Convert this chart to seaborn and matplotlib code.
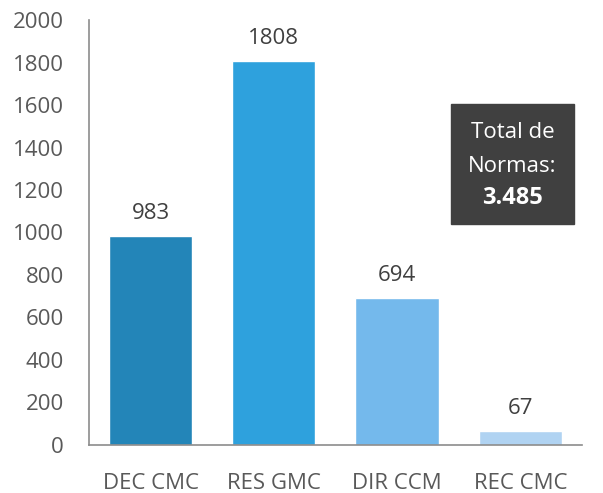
import matplotlib
matplotlib.use("Agg")
import matplotlib.pyplot as plt
from matplotlib.patches import Rectangle
import seaborn as sns
import pandas as pd

categories = ["DEC CMC", "RES GMC", "DIR CCM", "REC CMC"]
values = [983, 1808, 694, 67]
colors = ["#2385b8", "#2ea1dd", "#74b9ec", "#b0d3f2"]
total_label = "3.485"

sns.set_style("white")
plt.rcParams["font.family"] = ["Open Sans", "DejaVu Sans"]

df = pd.DataFrame({"cat": categories, "val": values})

fig = plt.figure(figsize=(6.03, 4.93), dpi=100)
ax = fig.add_axes([0.1476, 0.0974, 0.8174, 0.862])
sns.barplot(data=df, x="cat", y="val", hue="cat", palette=colors, width=0.675,
            legend=False, ax=ax, saturation=1)

ax.set_ylim(0, 2000)
ax.set_xlim(-0.5, 3.5)
ax.set_yticks(range(0, 2001, 200))
ax.set_xlabel("")
ax.set_ylabel("")
for s in ["top", "right"]:
    ax.spines[s].set_visible(False)
for s in ["left", "bottom"]:
    ax.spines[s].set_color("#8c8c8c")
    ax.spines[s].set_linewidth(1.2)
ax.tick_params(axis="both", length=0, labelsize=16, colors="#595959")
ax.tick_params(axis="x", pad=20)
ax.tick_params(axis="y", pad=18)

for i, v in enumerate(values):
    ax.text(i, v + 55, str(v), ha="center", va="bottom", fontsize=16, color="#404040")

fig.patches.append(Rectangle((451 / 603, 1 - 224 / 493), 123 / 603, 120 / 493,
                             transform=fig.transFigure, color="#404040", zorder=5))
cx = 512.5 / 603
fig.text(cx, 1 - 133 / 493, "Total de", ha="center", va="center", color="white", fontsize=16, zorder=6)
fig.text(cx, 1 - 166 / 493, "Normas:", ha="center", va="center", color="white", fontsize=16, zorder=6)
fig.text(cx, 1 - 198 / 493, total_label, ha="center", va="center", color="white", fontsize=17,
         fontweight="bold", zorder=6)

fig.savefig("out.png", dpi=100)
